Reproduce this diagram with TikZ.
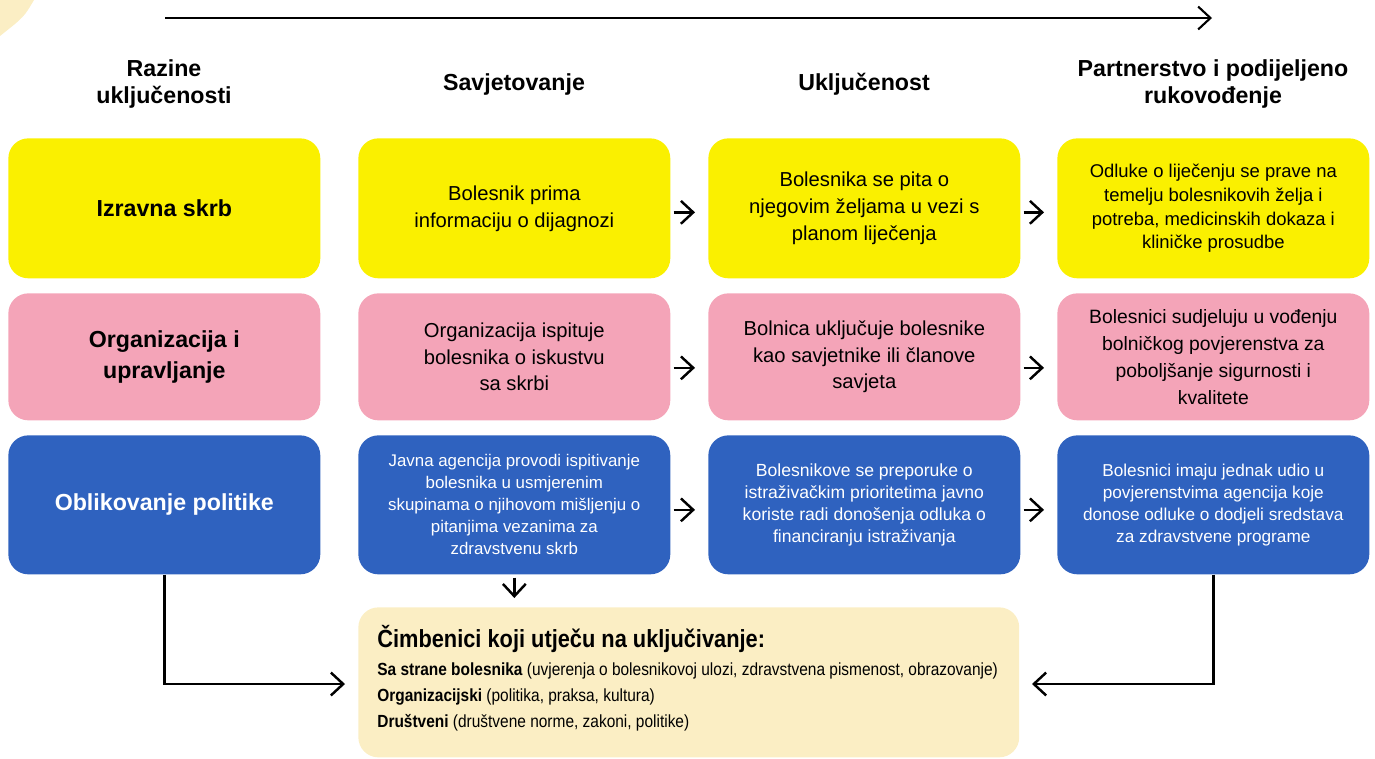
\documentclass[tikz,border=0pt]{standalone}
\usepackage{fontspec}
\setmainfont{Liberation Sans}
\newfontfamily\condfont[FakeStretch=0.88]{Liberation Sans}
\usetikzlibrary{arrows.meta}
\definecolor{cyel}{HTML}{FAF000}
\definecolor{cpink}{HTML}{F4A4B8}
\definecolor{cblue}{HTML}{2F62BF}
\definecolor{ccream}{HTML}{FBEEC4}
\tikzset{
  box/.style={rounded corners=0.4cm, minimum width=6.24cm, inner sep=0pt, align=center, anchor=north west},
  rowa/.style={box, fill=cyel, minimum height=2.8cm},
  rowb/.style={box, fill=cpink, minimum height=2.54cm},
  rowc/.style={box, fill=cblue, minimum height=2.78cm, text=white},
  lbl/.style={font=\bfseries\fontsize{13.2}{18}\selectfont},
  txt/.style={font=\fontsize{11.5}{15.3}\selectfont},
  txtb/.style={font=\fontsize{11}{15.3}\selectfont},
  txts/.style={font=\fontsize{10.5}{12.6}\selectfont},
  txtc/.style={font=\fontsize{9.6}{12.5}\selectfont},
  hdr/.style={align=center, font=\bfseries\fontsize{13.2}{14.8}\selectfont},
  ftxt/.style={anchor=base west, inner sep=0pt, font=\condfont\fontsize{10}{12}\selectfont},
  arr/.style={line width=1.4pt, -{Straight Barb[length=7pt,width=13pt]}},
}
\begin{document}
\begin{tikzpicture}[x=0.02cm,y=-0.02cm]
\useasboundingbox (0,0) rectangle (1375,758);
% corner decoration
\fill[ccream] (0,0) -- (34,0) .. controls (24,17) .. (0,36) -- cycle;
% top arrow
\coordinate (ta) at (165,18);
\coordinate (tb) at (1212,18);
\draw[arr, line width=1.2pt] (ta) -- (tb);
% headers
\node[hdr] (h1) at (164,84) {Razine\\uključenosti};
\node[hdr] (h2) at (514,84) {Savjetovanje};
\node[hdr] (h3) at (864,84) {Uključenost};
\node[hdr] (h4) at (1213,84) {Partnerstvo i podijeljeno\\rukovođenje};
% row 1
\node[rowa, lbl] (b11) at (8,138) {Izravna skrb};
\node[rowa, txt] (b12) at (358,138) {Bolesnik prima\\informaciju o dijagnozi};
\node[rowa, txt] (b13) at (708,138) {Bolesnika se pita o\\njegovim željama u vezi s\\planom liječenja};
\node[rowa, txts, font=\fontsize{10.5}{13.6}\selectfont] (b14) at (1057,138) {Odluke o liječenju se prave na\\temelju bolesnikovih želja i\\potreba, medicinskih dokaza i\\kliničke prosudbe};
% row 2
\node[rowb, lbl] (b21) at (8,293) {Organizacija i\\upravljanje};
\node[rowb, txt] (b22) at (358,293) {Organizacija ispituje\\bolesnika o iskustvu\\sa skrbi};
\node[rowb, txt] (b23) at (708,293) {Bolnica uključuje bolesnike\\kao savjetnike ili članove\\savjeta};
\node[rowb, txtb] (b24) at (1057,293) {Bolesnici sudjeluju u vođenju\\bolničkog povjerenstva za\\poboljšanje sigurnosti i\\kvalitete};
% row 3
\node[rowc, lbl] (b31) at (8,435) {Oblikovanje politike};
\node[rowc, txtc] (b32) at (358,435) {Javna agencija provodi ispitivanje\\bolesnika u usmjerenim\\skupinama o njihovom mišljenju o\\pitanjima vezanima za\\zdravstvenu skrb};
\node[rowc, txtc, font=\fontsize{10}{12.5}\selectfont] (b33) at (708,435) {Bolesnikove se preporuke o\\istraživačkim prioritetima javno\\koriste radi donošenja odluka o\\financiranju istraživanja};
\node[rowc, txtc, font=\fontsize{9.8}{12.5}\selectfont] (b34) at (1057,435) {Bolesnici imaju jednak udio u\\povjerenstvima agencija koje\\donose odluke o dodjeli sredstava\\za zdravstvene programe};
% bottom box
\node[box, fill=ccream, minimum width=13.22cm, minimum height=3cm] (fb) at (358,607) {};
\node[anchor=base west, inner sep=0pt, font=\condfont\bfseries\fontsize{14.1}{16}\selectfont] (ft) at (377,647) {Čimbenici koji utječu na uključivanje:};
\node[ftxt] (f1) at (377,675) {\textbf{Sa strane bolesnika} (uvjerenja o bolesnikovoj ulozi, zdravstvena pismenost, obrazovanje)};
\node[ftxt] (f2) at (377,701) {\textbf{Organizacijski} (politika, praksa, kultura)};
\node[ftxt] (f3) at (377,727) {\textbf{Društveni} (društvene norme, zakoni, politike)};
% horizontal arrows
\draw[arr] ([shift={(3,4)}]b12.east) -- ([shift={(-13,4)}]b13.west);
\draw[arr] ([shift={(3,4)}]b13.east) -- ([shift={(-13,4)}]b14.west);
\draw[arr] ([shift={(3,11)}]b22.east) -- ([shift={(-13,11)}]b23.west);
\draw[arr] ([shift={(3,11)}]b23.east) -- ([shift={(-13,11)}]b24.west);
\draw[arr] ([shift={(3,5)}]b32.east) -- ([shift={(-13,5)}]b33.west);
\draw[arr] ([shift={(3,5)}]b33.east) -- ([shift={(-13,5)}]b34.west);
% down arrow
\draw[arr] ([shift={(0,3)}]b32.south) -- ([shift={(0,-9)}]b32.south |- fb.north);
% L connectors
\coordinate (lt) at (345,684);
\coordinate (rt) at (1032,684);
\draw[arr] (b31.south) |- (lt);
\draw[arr] (b34.south) |- (rt);
\end{tikzpicture}
\end{document}
